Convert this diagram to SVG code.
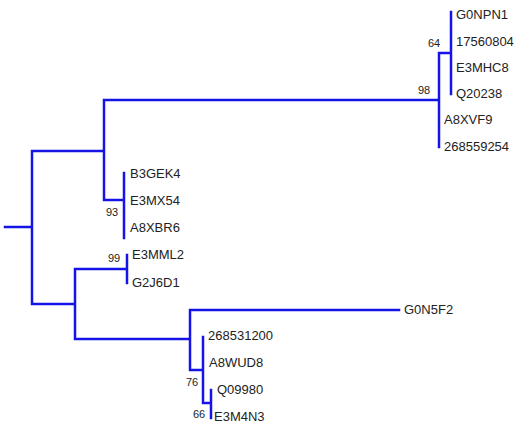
<svg xmlns="http://www.w3.org/2000/svg" width="518" height="427" viewBox="0 0 518 427">
<style>
.e{stroke:#1414e6;stroke-width:2.5;fill:none;stroke-linecap:square}
.l{font-family:"Liberation Sans",Arial,sans-serif;font-size:13px;fill:#222}
.b{font-family:"Liberation Sans",Arial,sans-serif;font-size:11px;fill:#222}
</style>
<rect width="518" height="427" fill="#fff"/>
<g id="connectors">
<path class="e" d="M5,227H32M32,151V304M32,151H104M104,100V200M104,100H439M439,53V147M439,53H451M451,12V94M104,200H124M124,173V238M32,304H75M75,269V339M75,269H127M127,255V283M75,339H190M190,310V370M190,310H399M190,370H203M203,337V403M203,403H211M211,390V418"/>
</g>
<g id="n_G0NPN1"><text class="l" x="456" y="19">G0NPN1</text></g>
<g id="n_17560804"><text class="l" x="456" y="46">17560804</text></g>
<g id="n_E3MHC8"><text class="l" x="456" y="72">E3MHC8</text></g>
<g id="n_Q20238"><text class="l" x="456" y="98">Q20238</text></g>
<g id="n_A8XVF9"><text class="l" x="444" y="124">A8XVF9</text></g>
<g id="n_268559254"><text class="l" x="444" y="151">268559254</text></g>
<g id="n_B3GEK4"><text class="l" x="130" y="178">B3GEK4</text></g>
<g id="n_E3MX54"><text class="l" x="130" y="205">E3MX54</text></g>
<g id="n_A8XBR6"><text class="l" x="130" y="232">A8XBR6</text></g>
<g id="n_E3MML2"><text class="l" x="132" y="259">E3MML2</text></g>
<g id="n_G2J6D1"><text class="l" x="132" y="287">G2J6D1</text></g>
<g id="n_G0N5F2"><text class="l" x="404" y="314">G0N5F2</text></g>
<g id="n_268531200"><text class="l" x="208" y="340">268531200</text></g>
<g id="n_A8WUD8"><text class="l" x="209" y="367">A8WUD8</text></g>
<g id="n_Q09980"><text class="l" x="217" y="394">Q09980</text></g>
<g id="n_E3M4N3"><text class="l" x="214" y="421">E3M4N3</text></g>
<g id="bootstrap">
<text class="b" x="428" y="47">64</text>
<text class="b" x="418" y="94">98</text>
<text class="b" x="106" y="216">93</text>
<text class="b" x="108" y="262">99</text>
<text class="b" x="186" y="386">76</text>
<text class="b" x="193" y="418">66</text>
</g>
</svg>
